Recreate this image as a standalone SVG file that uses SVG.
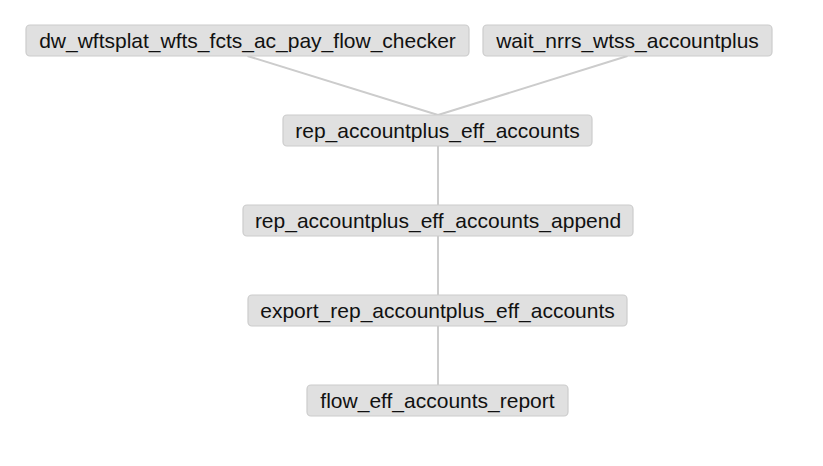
<svg xmlns="http://www.w3.org/2000/svg" width="823" height="466" viewBox="0 0 823 466">
<style>
.node rect{fill:#e0e0e0;stroke:#cccccc;stroke-width:1.2}
.node text{font-family:"Liberation Sans",Arial,sans-serif;font-size:21px;fill:#111;text-anchor:middle}
.edges line{stroke:#cccccc;stroke-width:2}
</style>
<rect width="823" height="466" fill="#ffffff"/>
<g class="edges" id="edges">
<line x1="247.5" y1="56" x2="438" y2="115"/>
<line x1="627.5" y1="56" x2="438" y2="115"/>
<line x1="438" y1="146" x2="438" y2="205"/>
<line x1="438" y1="236" x2="438" y2="295"/>
<line x1="438" y1="326" x2="438" y2="385"/>
</g>
<g class="node" id="n1"><rect x="26" y="25" width="443" height="31" rx="4"/><text x="247.5" y="48">dw_wftsplat_wfts_fcts_ac_pay_flow_checker</text></g>
<g class="node" id="n2"><rect x="483" y="25" width="289" height="31" rx="4"/><text x="627.5" y="48">wait_nrrs_wtss_accountplus</text></g>
<g class="node" id="n3"><rect x="283" y="115" width="309" height="31" rx="4"/><text x="437.5" y="138">rep_accountplus_eff_accounts</text></g>
<g class="node" id="n4"><rect x="243" y="205" width="390" height="31" rx="4"/><text x="438" y="228">rep_accountplus_eff_accounts_append</text></g>
<g class="node" id="n5"><rect x="248" y="295" width="379" height="31" rx="4"/><text x="437.5" y="318">export_rep_accountplus_eff_accounts</text></g>
<g class="node" id="n6"><rect x="307" y="385" width="261" height="31" rx="4"/><text x="437.5" y="408">flow_eff_accounts_report</text></g>
</svg>
